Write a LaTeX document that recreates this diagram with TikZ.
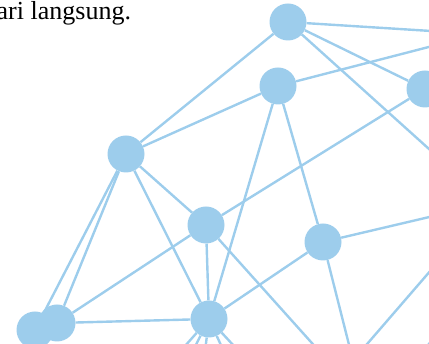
\documentclass[tikz,border=0pt]{standalone}
\usepackage{fontspec}
\setmainfont{Liberation Serif}
\usepackage{tikz}
\usetikzlibrary{backgrounds}
\definecolor{netblue}{RGB}{157,205,236}
\tikzset{%
  net/.style = {
    x=1pt, y=-1pt,
    dot/.style = {shape=circle, fill=netblue,
      minimum size=37pt, inner sep=0pt},
    link/.style = {draw=netblue, line width=2.4pt},
    caption/.style = {anchor=base west, inner sep=0pt,
      font=\fontsize{26}{31}\selectfont}
  }
}

\begin{document}
\begin{tikzpicture}[net]
  \clip (0,0) rectangle (429,344);
  \node[caption] (text) at (-3.5,20) {ari langsung.};
  \node[dot] (a) at (288,22) {};
  \node[dot] (b) at (278,86) {};
  \node[dot] (c) at (425,89) {};
  \node[dot] (d) at (126,154) {};
  \node[dot] (e) at (206,225) {};
  \node[dot] (f) at (323,242) {};
  \node[dot] (g) at (209,319) {};
  \node[dot] (h1) at (35,330) {};
  \node[dot] (h2) at (57,323) {};
  \node[dot] (p) at (443,354) {};
  \coordinate (r1) at (479,34);
  \coordinate (r2) at (489,203);
  \coordinate (s1) at (363,400);
  \coordinate (s2) at (336,380);
  \coordinate (g1) at (137,400);
  \coordinate (g2) at (168,400);
  \coordinate (g3) at (199,400);
  \coordinate (g4) at (246,400);
  \coordinate (g5) at (284,400);
  \begin{scope}[on background layer]
    \draw[link] (a) -- (d);
    \draw[link] (a) -- (r1);
    \draw[link] (a) -- (c);
    \draw[link] (a) -- (r2);
    \draw[link] (b) -- (d);
    \draw[link] (b) -- (r1);
    \draw[link] (b) -- (g);
    \draw[link] (b) -- (f);
    \draw[link] (c) -- (e);
    \draw[link] (d) -- (h1);
    \draw[link] (d) -- (h2);
    \draw[link] (d) -- (g);
    \draw[link] (d) -- (e);
    \draw[link] (e) -- (h2);
    \draw[link] (e) -- (g);
    \draw[link] (e) -- (s1);
    \draw[link] (f) -- (r2);
    \draw[link] (f) -- (g);
    \draw[link] (f) -- (s1);
    \draw[link] (g) -- (h2);
    \draw[link] (g) -- (g1);
    \draw[link] (g) -- (g2);
    \draw[link] (g) -- (g3);
    \draw[link] (g) -- (g4);
    \draw[link] (g) -- (g5);
    \draw[link] (r2) -- (s2);
  \end{scope}
\end{tikzpicture}
\end{document}
